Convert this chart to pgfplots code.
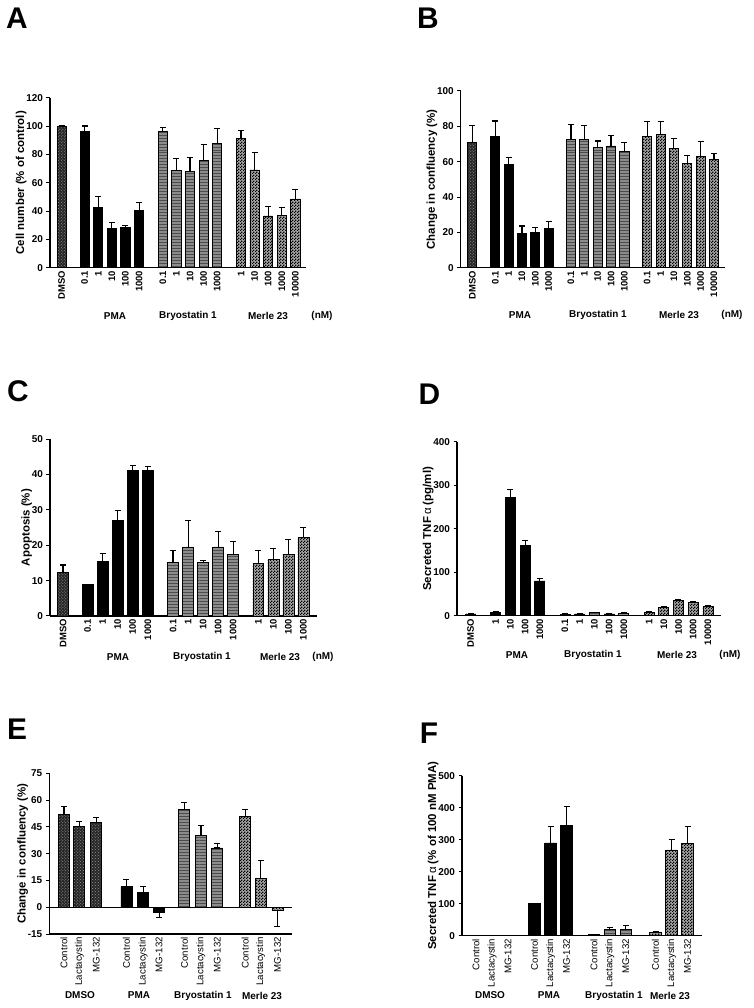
\documentclass[border=0pt]{standalone}
\usepackage{fontspec}
\setmainfont{Liberation Sans}
\usepackage{pgfplots}
\pgfplotsset{compat=1.18}
\usetikzlibrary{patterns}
\pgfdeclarepatternformonly{finecheck}{\pgfpointorigin}{\pgfqpoint{3bp}{3bp}}{\pgfqpoint{3bp}{3bp}}{%
  \pgfpathrectangle{\pgfpointorigin}{\pgfqpoint{1.5bp}{1.5bp}}%
  \pgfpathrectangle{\pgfqpoint{1.5bp}{1.5bp}}{\pgfqpoint{1.5bp}{1.5bp}}%
  \pgfusepath{fill}}
\pgfplotsset{
 panel/.style={
  scale only axis, anchor=south west, clip=false,
  axis x line*=bottom, axis y line*=left,
  axis line style={-, line width=1.2pt},
  ytick align=outside, xtick align=inside, major tick length=3.5bp,
  ytick style={line width=1pt, black},
  xtick style={draw=none},
  tick label style={font=\bfseries\fontsize{10}{12}\selectfont, black},
  xticklabel style={rotate=90, anchor=east, inner sep=3bp, font=\bfseries\fontsize{9.5}{11}\selectfont},
  label style={font=\bfseries\fontsize{11.5}{13}\selectfont},
  ylabel style={yshift=-7bp},
  /pgf/number format/assume math mode=true,
  error bars/y dir=plus, error bars/y explicit,
  error bars/error bar style={line width=1.1pt, black},
  error bars/error mark options={rotate=90, line width=1.1pt, mark size=3bp, black},
 },
 bars/.style={ybar, bar shift=0pt, draw=black, line width=0.8pt},
 dmso/.style={bars, fill=black!85, postaction={pattern=crosshatch dots, pattern color=black!40}},
 pma/.style={bars, fill=black},
 bryo/.style={bars, fill=black!45, postaction={pattern=horizontal lines, pattern color=black!70}},
 merle/.style={bars, fill=black!35, postaction={pattern=finecheck, pattern color=black}},
}
\begin{document}
\begin{tikzpicture}
\path[use as bounding box] (0,0) rectangle (754bp,1008bp);
% ---------------- A ----------------
\begin{axis}[panel, at={(50bp,740.3bp)}, width=256bp, height=170bp,
  xmin=-0.85, xmax=17.98, ymin=0, ymax=120, ytick={0,20,...,120}, bar width=0.68,
  ylabel={Cell number (\% of control)},
  xtick={0,1.7,2.7,3.7,4.7,5.7,7.45,8.45,9.45,10.45,11.45,13.2,14.2,15.2,16.2,17.2},
  xticklabels={DMSO,0.1,1,10,100,1000,0.1,1,10,100,1000,1,10,100,1000,10000}]
\addplot[dmso] coordinates {(0,100) +- (0,0)};
\addplot[pma] coordinates {(1.7,96.2) +- (0,3.8) (2.7,42.7) +- (0,7.5) (3.7,27.9) +- (0,3.8) (4.7,28.2) +- (0,1.8) (5.7,40.4) +- (0,5.8)};
\addplot[bryo] coordinates {(7.45,96) +- (0,3) (8.45,68.5) +- (0,8.5) (9.45,68) +- (0,9.5) (10.45,76) +- (0,11) (11.45,88) +- (0,10.5)};
\addplot[merle] coordinates {(13.2,91.5) +- (0,5.5) (14.2,69) +- (0,12.5) (15.2,36.5) +- (0,7) (16.2,37) +- (0,5.5) (17.2,48.5) +- (0,7)};
\end{axis}
% ---------------- B ----------------
\begin{axis}[panel, at={(460.7bp,740.3bp)}, width=264.6bp, height=176.7bp,
  xmin=-0.87, xmax=18.95, ymin=0, ymax=100, ytick={0,20,...,100}, bar width=0.68,
  ylabel={Change in confluency (\%)},
  xtick={0,1.72,2.72,3.72,4.72,5.72,7.39,8.39,9.39,10.39,11.39,13.1,14.1,15.1,16.1,17.1,18.1},
  xticklabels={DMSO,0.1,1,10,100,1000,0.1,1,10,100,1000,0.1,1,10,100,1000,10000}]
\addplot[dmso] coordinates {(0,71) +- (0,9.5)};
\addplot[pma] coordinates {(1.72,74.5) +- (0,8.5) (2.72,58.5) +- (0,4) (3.72,19.4) +- (0,4.2) (4.72,20) +- (0,2.5) (5.72,22) +- (0,4)};
\addplot[bryo] coordinates {(7.39,72.8) +- (0,8.2) (8.39,72.6) +- (0,8) (9.39,68) +- (0,3.7) (10.39,68.9) +- (0,5.8) (11.39,65.7) +- (0,5.1)};
\addplot[merle] coordinates {(13.1,74.5) +- (0,8) (14.1,75.5) +- (0,7) (15.1,67.7) +- (0,5.5) (16.1,59) +- (0,4.4) (17.1,63.2) +- (0,8.1) (18.1,61.5) +- (0,3.2)};
\end{axis}
% ---------------- C ----------------
\begin{axis}[panel, at={(50bp,392bp)}, width=266.7bp, height=177bp,
  xmin=-0.865, xmax=16.88, ymin=0, ymax=50, ytick={0,10,...,50}, bar width=0.73,
  ylabel={Apoptosis (\%)},
  xtick={0,1.64,2.64,3.64,4.64,5.64,7.32,8.32,9.32,10.32,11.32,13,14,15,16},
  xticklabels={DMSO,0.1,1,10,100,1000,0.1,1,10,100,1000,1,10,100,1000}]
\addplot[dmso] coordinates {(0,12.3) +- (0,2.1)};
\addplot[pma] coordinates {(1.64,8.8) +- (0,0.2) (2.64,15.3) +- (0,2.4) (3.64,26.9) +- (0,2.9) (4.64,41) +- (0,1.6) (5.64,41) +- (0,1.3)};
\addplot[bryo] coordinates {(7.32,15.1) +- (0,3.4) (8.32,19.5) +- (0,7.5) (9.32,15) +- (0,0.8) (10.32,19.5) +- (0,4.3) (11.32,17.3) +- (0,3.8)};
\addplot[merle] coordinates {(13,14.8) +- (0,3.7) (14,15.9) +- (0,3.2) (15,17.4) +- (0,4.2) (16,22.2) +- (0,2.8)};
\end{axis}
% ---------------- D ----------------
\begin{axis}[panel, at={(457bp,392.3bp)}, width=263.7bp, height=173.7bp,
  xmin=-0.93, xmax=17.0, ymin=0, ymax=400, ytick={0,100,...,400}, bar width=0.68,
  ylabel={Secreted TNF{\mdseries\,α} (pg/ml)},
  xtick={0,1.7,2.7,3.7,4.7,6.41,7.41,8.41,9.41,10.41,12.13,13.13,14.13,15.13,16.13},
  xticklabels={DMSO,1,10,100,1000,0.1,1,10,100,1000,1,10,100,1000,10000}]
\addplot[dmso] coordinates {(0,4) +- (0,1)};
\addplot[pma] coordinates {(1.7,8) +- (0,2) (2.7,272) +- (0,19) (3.7,161) +- (0,12) (4.7,80) +- (0,6)};
\addplot[bryo] coordinates {(6.41,3) +- (0,1) (7.41,4) +- (0,1) (8.41,7) +- (0,1) (9.41,4) +- (0,1) (10.41,6) +- (0,1)};
\addplot[merle] coordinates {(12.13,7) +- (0,2) (13.13,20) +- (0,2) (14.13,35) +- (0,2) (15.13,30) +- (0,2) (16.13,22) +- (0,1)};
\end{axis}
% ---------------- E ----------------
\begin{axis}[panel, at={(49.3bp,74bp)}, width=242.7bp, height=160.7bp,
  xmin=-0.91, xmax=14.1, ymin=-15, ymax=75, ytick={-15,0,...,75}, bar width=0.68,
  ylabel={Change in confluency (\%)},
  error bars/y dir=both,
  xticklabel style={font=\fontsize{9.7}{11}\selectfont},
  xtick={0,0.95,2,3.86,4.89,5.88,7.44,8.47,9.48,11.2,12.16,13.2},
  xticklabels={Control,Lactacystin,MG-132,Control,Lactacystin,MG-132,Control,Lactacystin,MG-132,Control,Lactacystin,MG-132}]
\draw[line width=1.2pt] (axis cs:-0.91,0) -- (axis cs:14.1,0);
\addplot[dmso] coordinates {(0,51.9) += (0,4.3) -= (0,0) (0.95,45) += (0,3.2) -= (0,0) (2,47.6) += (0,2.4) -= (0,0)};
\addplot[pma] coordinates {(3.86,11.6) += (0,3.9) -= (0,0) (4.89,8.4) += (0,3.4) -= (0,0) (5.88,-3) += (0,0) -= (0,2.8)};
\addplot[bryo] coordinates {(7.44,54.7) += (0,3.9) -= (0,0) (8.47,40.1) += (0,5.5) -= (0,0) (9.48,33.2) += (0,2.3) -= (0,0)};
\addplot[merle] coordinates {(11.2,51) += (0,3.7) -= (0,0) (12.16,15.9) += (0,10.4) -= (0,0) (13.2,-1.7) += (0,0) -= (0,9.3)};
\end{axis}
% ---------------- F ----------------
\begin{axis}[panel, at={(462bp,72.3bp)}, width=240bp, height=160bp,
  xmin=-0.875, xmax=14.1, ymin=0, ymax=500, ytick={0,100,...,500}, bar width=0.73,
  ylabel={Secreted TNF{\mdseries\,α} (\% of 100 nM PMA)},
  xticklabel style={font=\fontsize{9.7}{11}\selectfont},
  xtick={0,1,2,3.65,4.65,5.65,7.35,8.35,9.35,11.2,12.2,13.2},
  xticklabels={Control,Lactacystin,MG-132,Control,Lactacystin,MG-132,Control,Lactacystin,MG-132,Control,Lactacystin,MG-132}]
\addplot[dmso] coordinates {(0,0.5) +- (0,0) (1,1) +- (0,0) (2,0.5) +- (0,0)};
\addplot[pma] coordinates {(3.65,100) +- (0,0) (4.65,290) +- (0,50) (5.65,344) +- (0,61)};
\addplot[bryo] coordinates {(7.35,3) +- (0,1) (8.35,20) +- (0,6) (9.35,20) +- (0,11)};
\addplot[merle] coordinates {(11.2,10) +- (0,2) (12.2,268) +- (0,34) (13.2,289) +- (0,51)};
\end{axis}
% ---------------- group labels ----------------
\begin{scope}[every node/.style={font=\bfseries\fontsize{10}{12}\selectfont}]
\node at (115bp,692bp) {PMA};
\node at (188bp,692bp) {Bryostatin 1};
\node at (268bp,692bp) {Merle 23};
\node at (322bp,692bp) {(nM)};
\node at (520bp,693bp) {PMA};
\node at (598bp,693bp) {Bryostatin 1};
\node at (679bp,693bp) {Merle 23};
\node at (732bp,693bp) {(nM)};
\node at (118bp,351bp) {PMA};
\node at (202bp,351bp) {Bryostatin 1};
\node at (280bp,351bp) {Merle 23};
\node at (323bp,351bp) {(nM)};
\node at (517bp,353bp) {PMA};
\node at (593bp,353bp) {Bryostatin 1};
\node at (677bp,353bp) {Merle 23};
\node at (730bp,353bp) {(nM)};
\node at (80bp,12.5bp) {DMSO};
\node at (139bp,12.5bp) {PMA};
\node at (203bp,12.5bp) {Bryostatin 1};
\node at (262bp,12.5bp) {Merle 23};
\node at (490bp,12.5bp) {DMSO};
\node at (549bp,12.5bp) {PMA};
\node at (614bp,12.5bp) {Bryostatin 1};
\node at (670bp,12.5bp) {Merle 23};
\end{scope}
% ---------------- panel letters ----------------
\begin{scope}[every node/.style={font=\bfseries\fontsize{30}{32}\selectfont}]
\node at (17bp,989.5bp) {A};
\node at (428bp,990bp) {B};
\node at (18bp,617bp) {C};
\node at (429.5bp,613.5bp) {D};
\node at (17bp,278.5bp) {E};
\node at (429bp,275bp) {F};
\end{scope}
\end{tikzpicture}
\end{document}
